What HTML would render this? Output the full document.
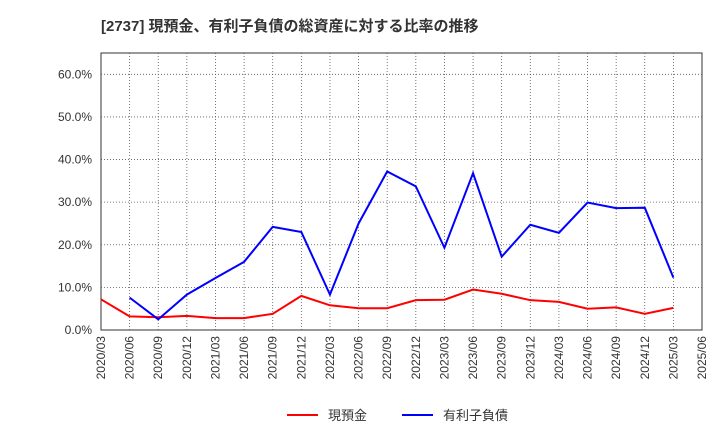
<!DOCTYPE html>
<html><head><meta charset="utf-8"><style>
body{margin:0;background:#fff;}
svg text{font-family:"Liberation Sans","Noto Sans CJK JP",sans-serif;}
</style></head><body>
<svg width="720" height="440" xmlns="http://www.w3.org/2000/svg">
<text x="101" y="31" font-size="15" font-weight="bold" fill="#333">[2737]  現預金、有利子負債の総資産に対する比率の推移</text>
<rect x="101" y="53" width="601" height="277" fill="#fff" stroke="#333"/>
<g id="grid"></g><g id="yt"></g><g id="xt"></g><g id="series"></g>
<g>
<line x1="287" y1="415" x2="318" y2="415" stroke="#f00" stroke-width="2"/>
<text x="328" y="420" font-size="13" fill="#333">現預金</text>
<line x1="402" y1="415" x2="433" y2="415" stroke="#00f" stroke-width="2"/>
<text x="443" y="420" font-size="13" fill="#333">有利子負債</text>
</g>
</svg>
<script>
const xLabels=["2020/03","2020/06","2020/09","2020/12","2021/03","2021/06","2021/09","2021/12","2022/03","2022/06","2022/09","2022/12","2023/03","2023/06","2023/09","2023/12","2024/03","2024/06","2024/09","2024/12","2025/03","2025/06"];
const yTicks=[0,10,20,30,40,50,60];
const cash=[7.2,3.2,3.0,3.3,2.8,2.8,3.8,8.0,5.8,5.1,5.1,7.0,7.1,9.5,8.5,7.0,6.6,5.0,5.3,3.8,5.2];
const debt=[null,7.6,2.5,8.3,12.2,16.0,24.2,23.0,8.3,25.0,37.2,33.7,19.3,36.8,17.2,24.7,22.8,29.9,28.6,28.7,12.3];
const NS="http://www.w3.org/2000/svg";
const X=i=>101+i*601/21, Y=v=>330-v*(277/65);
function mk(t,a,p){const e=document.createElementNS(NS,t);for(const k in a)e.setAttribute(k,a[k]);document.getElementById(p).appendChild(e);return e;}
yTicks.forEach(v=>{
 if(v>0){const g=mk('line',{x1:101,x2:702,y1:Y(v),y2:Y(v),stroke:'#555','stroke-dasharray':'1,2','stroke-width':0.8},'grid');
 
 }
 const t=mk('text',{x:92,y:Y(v)+4,'font-size':12,fill:'#333','text-anchor':'end'},'yt');
 t.textContent=v.toFixed(1)+'%';
 
 
});
xLabels.forEach((l,i)=>{
 if(i>0&&i<21){const g=mk('line',{x1:X(i),x2:X(i),y1:53,y2:330,stroke:'#555','stroke-dasharray':'1,2','stroke-width':0.8},'grid');
 
 }
 const t=mk('text',{x:0,y:0,'font-size':12,fill:'#333','text-anchor':'end',transform:`translate(${X(i)+4},336) rotate(-90)`},'xt');
 t.textContent=l;
 
 
});
function line(d,c,n){const pts=d.map((v,i)=>v==null?null:X(i)+','+Y(v)).filter(p=>p);
 const p=mk('polyline',{points:pts.join(' '),fill:'none',stroke:c,'stroke-width':2},'series');
 
 }
line(cash,'#f00','cash-line');
line(debt,'#00f','debt-line');
</script>
</body></html>
